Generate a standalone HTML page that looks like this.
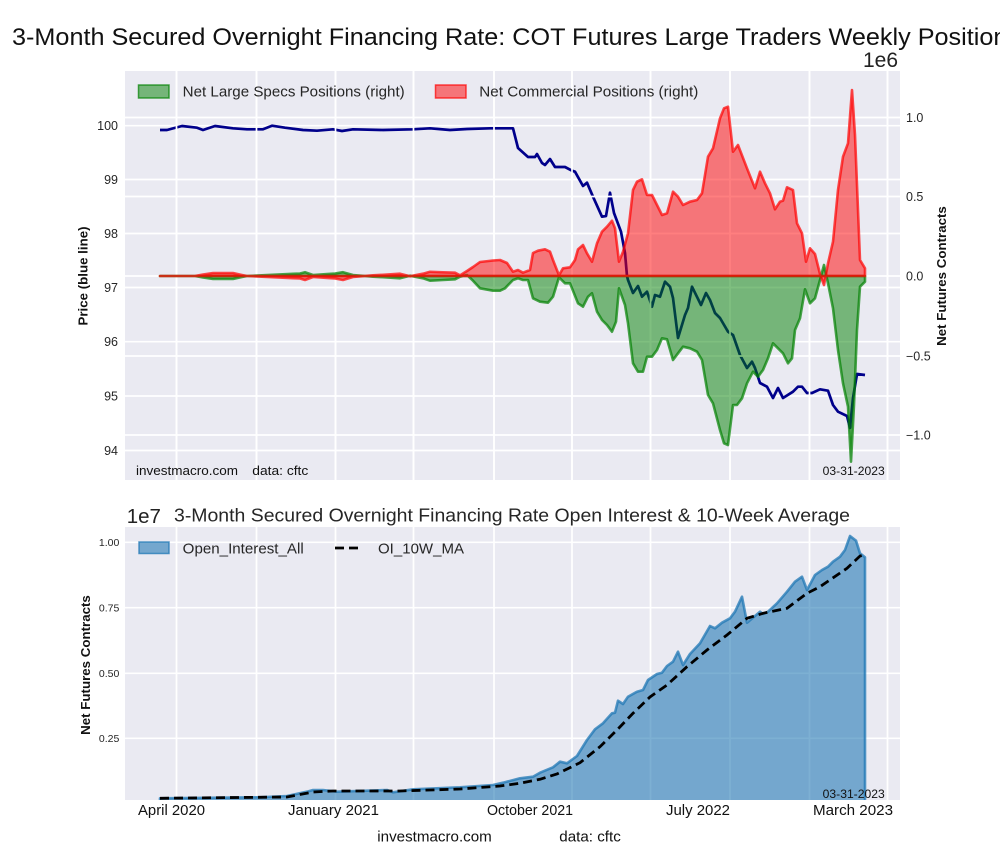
<!DOCTYPE html>
<html><head><meta charset="utf-8"><style>
html,body{margin:0;padding:0;background:#fff;}
svg{display:block;font-family:"Liberation Sans",Arial,sans-serif;}
</style></head><body>
<svg width="1000" height="860" viewBox="0 0 1000 860" xmlns="http://www.w3.org/2000/svg">
<defs>
<clipPath id="ct"><rect x="125" y="71" width="775" height="409"/></clipPath>
<clipPath id="cb"><rect x="125" y="527" width="775" height="273"/></clipPath>
</defs>
<rect width="1000" height="860" fill="#fff"/>
<!-- Title -->
<text x="12" y="45" font-size="24" fill="#111" textLength="1008" lengthAdjust="spacingAndGlyphs">3-Month Secured Overnight Financing Rate: COT Futures Large Traders Weekly Positions</text>
<text x="863" y="67" font-size="21" fill="#222">1e6</text>

<!-- TOP AXES -->
<rect x="125" y="71" width="775" height="409" fill="#eaeaf2"/>
<g stroke="#fff" stroke-width="1.7">
<line x1="125" x2="900" y1="125.7" y2="125.7"/><line x1="125" x2="900" y1="179.5" y2="179.5"/>
<line x1="125" x2="900" y1="233.5" y2="233.5"/><line x1="125" x2="900" y1="287.5" y2="287.5"/>
<line x1="125" x2="900" y1="341.7" y2="341.7"/><line x1="125" x2="900" y1="396" y2="396"/>
<line x1="125" x2="900" y1="450.5" y2="450.5"/>
<line y1="71" y2="480" x1="176.5" x2="176.5"/><line y1="71" y2="480" x1="256.5" x2="256.5"/>
<line y1="71" y2="480" x1="335.5" x2="335.5"/><line y1="71" y2="480" x1="413.5" x2="413.5"/>
<line y1="71" y2="480" x1="494" x2="494"/><line y1="71" y2="480" x1="572" x2="572"/>
<line y1="71" y2="480" x1="650.5" x2="650.5"/><line y1="71" y2="480" x1="730" x2="730"/>
<line y1="71" y2="480" x1="809.5" x2="809.5"/><line y1="71" y2="480" x1="887.5" x2="887.5"/>
</g>
<g clip-path="url(#ct)">
<polyline fill="none" stroke="#00008b" stroke-width="2.7" stroke-linejoin="round" points="160,130 167,130 182,126 197,127.7 203,130 215,126 233,128.3 247,129.3 263,129.3 272,125.7 285,127.7 303,130 317,130.7 333,129.3 342,131 353,129.3 383,130 413,129.3 430,128.3 450,130 467,129 490,128.3 513,128.3 518,148 528,157 535,157 537,154 542,163 545,165 550,159 555,167 565,167 572,170.7 575,171.7 583,186 587,182.7 593,196.7 602,216.7 606,216 610,192.7 614,213 621,231.7 625,253 627,276 628,280 633,293 638,286 642,296.7 647,291.7 652,306.7 655,295 660,296.7 665,281.7 670,286.7 673,298 678,338 685,315 688,308 692,286.7 701,305 706,293 710,300 715,313 720,318 728,331.7 733,335 740,355 747,368 752,361.7 755,368 760,383 767,386.7 773,398 778,388 783,398 793,391.7 798,386.7 802,386.7 807,393 812,393 820,389.3 828,390.7 833,405 838,411.7 847,416 850,428 853,398 857,374 865,375"/>
</g>
<!-- twin axis grid -->
<g stroke="#fff" stroke-width="1.7">
<line x1="125" x2="900" y1="117.5" y2="117.5"/><line x1="125" x2="900" y1="196.5" y2="196.5"/>
<line x1="125" x2="900" y1="276" y2="276"/><line x1="125" x2="900" y1="356" y2="356"/>
<line x1="125" x2="900" y1="435" y2="435"/>
<line y1="71" y2="480" x1="176.5" x2="176.5"/><line y1="71" y2="480" x1="256.5" x2="256.5"/>
<line y1="71" y2="480" x1="335.5" x2="335.5"/><line y1="71" y2="480" x1="413.5" x2="413.5"/>
<line y1="71" y2="480" x1="494" x2="494"/><line y1="71" y2="480" x1="572" x2="572"/>
<line y1="71" y2="480" x1="650.5" x2="650.5"/><line y1="71" y2="480" x1="730" x2="730"/>
<line y1="71" y2="480" x1="809.5" x2="809.5"/><line y1="71" y2="480" x1="887.5" x2="887.5"/>
</g>
<g clip-path="url(#ct)" stroke-width="2.6" stroke-linejoin="round">
<path fill="green" fill-opacity="0.5" stroke="green" stroke-opacity="0.7" d="M160,276 L195,276 203,277.5 213,279 233,279 242,277 247,276 293,273.8 300,273.5 305,272.2 313,275 327,274 335,273.5 343,272.2 353,275 373,276.7 385,277.3 400,278.3 410,275.7 423,278.3 430,280.7 443,280 455,279.3 460,276.7 467,275 473,280.7 480,288.3 493,290.7 500,290.7 505,288.3 513,280 518,278.3 523,280 528,280 533,298.3 540,301.7 548,302.7 553,296.7 559,277.3 565,283.3 570,283.3 578,303.3 583,306.7 588,296.7 592,293.3 597,311.7 602,320 607,325 612,331.7 616,321.7 619,288.3 625,305 628,323.3 633,363.3 638,371.7 643,371.7 647,356.7 652,356.7 657,350 662,338.3 667,339.3 673,360 678,353.3 683,346.7 690,348.3 697,351.7 702,360 708,395 713,403.3 720,430 724,443.3 728,445 733,405 737,405 742,398.3 747,383.3 753,371.7 758,376.7 763,370 768,358.3 773,343.3 778,348.3 783,353.3 788,363.3 792,358.3 795,330 800,318.3 805,289.3 810,303.3 815,298.3 820,280 824,265 828,283.3 833,308.3 838,350 843,383.3 848,406.7 851,461.7 854,405 857,330 860,286.7 865,281.7 L865,276 Z"/>
<path fill="red" fill-opacity="0.5" stroke="red" stroke-opacity="0.7" d="M160,276 L195,276 203,274.5 213,273 233,273 242,275 247,276 293,278.2 300,278.5 305,280 313,277 327,278 335,278.5 343,280 353,277 373,275.3 385,274.7 400,273.7 410,276.3 423,273.7 430,271.8 443,272.3 455,272.7 460,275.3 467,271 473,267 480,262 493,260.5 500,260 507,263 513,271.7 518,270 523,272.7 530,270 533,253 538,250.7 545,249.3 550,251.7 553,260 559,275.3 563,268.3 570,267.3 575,260 578,249.3 583,245 587,253.3 592,261.7 597,243.3 602,231.7 607,226.7 612,220.7 615,228.3 619,261.7 623,251.7 628,233.3 633,190 637,181.7 642,179.3 647,195 652,195 657,205 662,215 667,213.3 673,191.7 678,196.7 683,205 690,201.7 697,200 702,193.3 708,156.7 713,148.3 720,118.3 724,108.3 728,106.7 733,151.7 738,145 747,168.3 755,188.3 760,171.7 765,183.3 770,193.3 775,209.3 780,201.7 783,200.7 787,187.3 793,190 797,223.3 802,233.3 806,261.7 810,248.3 815,254 820,274 824,285 828,263.3 833,241.7 838,190 843,156.7 848,143.3 852,90 855,135 860,260 865,268.3 L865,276 Z"/>
</g>
<!-- top legend -->
<rect x="138.5" y="85" width="30.5" height="13" fill="green" fill-opacity="0.5" stroke="green" stroke-opacity="0.7" stroke-width="1.5"/>
<text x="182.7" y="96.5" font-size="14.5" fill="#262626" textLength="222" lengthAdjust="spacingAndGlyphs">Net Large Specs Positions (right)</text>
<rect x="435.5" y="85" width="30.5" height="13" fill="red" fill-opacity="0.5" stroke="red" stroke-opacity="0.7" stroke-width="1.5"/>
<text x="479.3" y="96.5" font-size="14.5" fill="#262626" textLength="219" lengthAdjust="spacingAndGlyphs">Net Commercial Positions (right)</text>
<!-- top annotations -->
<text x="136" y="475" font-size="13" fill="#111" textLength="102" lengthAdjust="spacingAndGlyphs">investmacro.com</text>
<text x="252.3" y="475" font-size="13" fill="#111" textLength="56" lengthAdjust="spacingAndGlyphs">data: cftc</text>
<text x="822.7" y="475" font-size="12" fill="#111" textLength="62" lengthAdjust="spacingAndGlyphs">03-31-2023</text>
<!-- top left ticks -->
<g font-size="12.5" fill="#262626" text-anchor="end">
<text x="118" y="130.2">100</text><text x="118" y="184">99</text><text x="118" y="238">98</text>
<text x="118" y="292">97</text><text x="118" y="346.2">96</text><text x="118" y="400.5">95</text>
<text x="118" y="455">94</text>
</g>
<g font-size="12.5" fill="#262626">
<text x="906" y="122">1.0</text><text x="906" y="201">0.5</text><text x="906" y="280.5">0.0</text>
<text x="906" y="360.5">−0.5</text><text x="906" y="439.5">−1.0</text>
</g>
<text transform="translate(87.5,276) rotate(-90)" text-anchor="middle" font-size="13.3" font-weight="bold" fill="#111">Price (blue line)</text>
<text transform="translate(946,276) rotate(-90)" text-anchor="middle" font-size="13.3" font-weight="bold" fill="#111">Net Futures Contracts</text>

<!-- BOTTOM AXES -->
<text x="126.7" y="523" font-size="20.5" fill="#222">1e7</text>
<text x="174" y="521.5" font-size="18.5" fill="#262626" textLength="676" lengthAdjust="spacingAndGlyphs">3-Month Secured Overnight Financing Rate Open Interest &amp; 10-Week Average</text>
<rect x="125" y="527" width="775" height="273" fill="#eaeaf2"/>
<g stroke="#fff" stroke-width="1.7">
<line x1="125" x2="900" y1="542.3" y2="542.3"/><line x1="125" x2="900" y1="607.7" y2="607.7"/>
<line x1="125" x2="900" y1="673.3" y2="673.3"/><line x1="125" x2="900" y1="738.3" y2="738.3"/>
<line y1="527" y2="800" x1="176.5" x2="176.5"/><line y1="527" y2="800" x1="256.5" x2="256.5"/>
<line y1="527" y2="800" x1="335.5" x2="335.5"/><line y1="527" y2="800" x1="413.5" x2="413.5"/>
<line y1="527" y2="800" x1="494" x2="494"/><line y1="527" y2="800" x1="572" x2="572"/>
<line y1="527" y2="800" x1="650.5" x2="650.5"/><line y1="527" y2="800" x1="730" x2="730"/>
<line y1="527" y2="800" x1="809.5" x2="809.5"/><line y1="527" y2="800" x1="887.5" x2="887.5"/>
</g>
<g clip-path="url(#cb)">
<path fill="#1f77b4" fill-opacity="0.58" stroke="#1f77b4" stroke-opacity="0.75" stroke-width="2.6" stroke-linejoin="round" d="M160,805 L160,798.3 260,797.3 287,796 307,791.7 313,790 323,790 337,791.7 387,790 393,792.3 413,789.3 460,787.3 493,785 503,782.7 520,778.3 533,776.7 540,772.7 553,767.3 560,761.7 567,763.3 577,756 587,740 595,729.3 603,723.3 612,713.3 615,712.7 618,700.7 623,704 628,696.7 637,691.7 643,690 648,680 657,674 662,672.7 667,666 673,661.7 678,651.7 683,665 690,654 700,643.3 710,626 715,628.3 722,622.7 730,618.3 735,611.7 742,596.7 747,622.7 760,611.7 763,614 768,611.7 777,603.3 787,591.7 795,581.7 802,576.7 807,590 815,575 822,570 828,566.7 833,561.7 840,556.7 845,550 850,536 856,540.7 860,553.3 865,557.3 L865,805 Z"/>
<polyline fill="none" stroke="#000" stroke-width="2.8" stroke-dasharray="9,5" points="160,798.3 287,797 313,792 333,791 400,791 460,789 500,786 520,783.3 540,779.3 557,774 580,762.7 600,746.7 617,730 633,713.3 650,697 667,685 687,666.7 707,650 727,635 747,618.3 763,613.3 787,608.3 807,593.3 820,586.7 847,568.3 860,556 865,555"/>
</g>
<!-- bottom legend -->
<rect x="139" y="542" width="30" height="11.5" fill="#1f77b4" fill-opacity="0.58" stroke="#1f77b4" stroke-opacity="0.75" stroke-width="1.5"/>
<text x="182.7" y="553.5" font-size="14.5" fill="#262626" textLength="121" lengthAdjust="spacingAndGlyphs">Open_Interest_All</text>
<line x1="335" x2="363" y1="548" y2="548" stroke="#000" stroke-width="2.8" stroke-dasharray="9,5"/>
<text x="378" y="553.5" font-size="14.5" fill="#262626" textLength="86" lengthAdjust="spacingAndGlyphs">OI_10W_MA</text>
<text x="822.7" y="798" font-size="12" fill="#111" textLength="62" lengthAdjust="spacingAndGlyphs">03-31-2023</text>
<g font-size="10.5" fill="#262626" text-anchor="end">
<text x="119.3" y="546">1.00</text><text x="119.3" y="611.5">0.75</text>
<text x="119.3" y="677">0.50</text><text x="119.3" y="742">0.25</text>
</g>
<text transform="translate(90,665) rotate(-90)" text-anchor="middle" font-size="13.3" font-weight="bold" fill="#111">Net Futures Contracts</text>
<g font-size="14.5" fill="#111">
<text x="138" y="815" textLength="67" lengthAdjust="spacingAndGlyphs">April 2020</text>
<text x="288" y="815" textLength="91" lengthAdjust="spacingAndGlyphs">January 2021</text>
<text x="487" y="815" textLength="86" lengthAdjust="spacingAndGlyphs">October 2021</text>
<text x="666" y="815" textLength="64" lengthAdjust="spacingAndGlyphs">July 2022</text>
<text x="813" y="815" textLength="80" lengthAdjust="spacingAndGlyphs">March 2023</text>
</g>
<text x="377.3" y="841.5" font-size="14.5" fill="#111" textLength="114.5" lengthAdjust="spacingAndGlyphs">investmacro.com</text>
<text x="559.3" y="841.5" font-size="14.5" fill="#111" textLength="61.5" lengthAdjust="spacingAndGlyphs">data: cftc</text>
</svg>
</body></html>
